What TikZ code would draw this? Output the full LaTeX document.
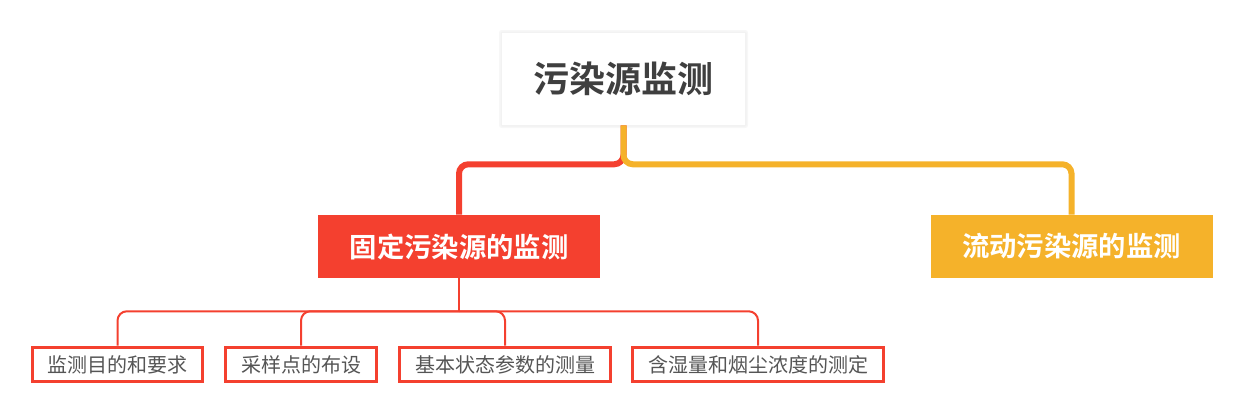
\documentclass[tikz,border=0pt]{standalone}
\usepackage{fontspec}
\newfontfamily\cjk{Noto Sans CJK SC}[BoldFont={Noto Sans CJK SC Bold}]
\usepackage{xcolor}
\usetikzlibrary{positioning,calc}
\definecolor{topicred}{HTML}{F4402F}
\definecolor{topicyel}{HTML}{F5B22A}
\definecolor{roottext}{HTML}{3F3F3F}
\definecolor{leaftext}{HTML}{555555}

\begin{document}
\begin{tikzpicture}[
  x=0.75pt, y=-0.75pt,
  root/.style={fill=white, align=center, inner sep=0pt,
               minimum width=182pt, minimum height=69pt,
               font=\cjk\bfseries\fontsize{27}{30}\selectfont, text=roottext},
  branch/.style={align=center, inner sep=0pt, minimum width=211.5pt,
               minimum height=47.25pt, text=white,
               font=\cjk\bfseries\fontsize{20.5}{24}\selectfont},
  leaf/.style={draw=topicred, line width=2.25pt, fill=white, inner sep=0pt,
               minimum height=26pt, text=leaftext,
               font=\cjk\fontsize{15}{18}\selectfont},
  mainline/.style={line width=4.5pt, rounded corners=7pt},
  subline/.style={draw=topicred, line width=1.5pt, rounded corners=7pt}
]
\useasboundingbox (0,0) rectangle (1237,412);
% root with soft shadow
\fill[black!3, rounded corners=2pt] (499,30) rectangle (748,128);
\fill[black!5, rounded corners=1pt] (500.5,31.5) rectangle (746.5,126.5);
\node[root] (root) at (623.5,79) {污染源监测};
% main branches
\node[branch, fill=topicred] (fixed) at (459,246.5) {固定污染源的监测};
\node[branch, fill=topicyel] (mobile) at (1071.5,246.5) {流动污染源的监测};
% sub topics
\node[leaf, minimum width=127.5pt] (aim)   at (117.5,364.5) {监测目的和要求};
\node[leaf, minimum width=113pt]   (site)  at (301,364.5)   {采样点的布设};
\node[leaf, minimum width=158pt]   (state) at (505,364.5)   {基本状态参数的测量};
\node[leaf, minimum width=188.5pt] (dust)  at (758,364.5)   {含湿量和烟尘浓度的测定};

% root to branches, yellow drawn last so the trunk stays yellow
\draw[mainline, topicred] (root.south) -- ++(0,39) -| (fixed.north);
\draw[mainline, topicyel] (root.south) -- ++(0,39) -| (mobile.north);
% fixed source to its sub topics
\coordinate (fork) at ($(fixed.south)+(0,33)$);
\draw[subline] (fixed.south) -- (fork);
\foreach \leafname in {aim,site,state,dust}
  \draw[subline] (fork) -| (\leafname.north);
\end{tikzpicture}
\end{document}
